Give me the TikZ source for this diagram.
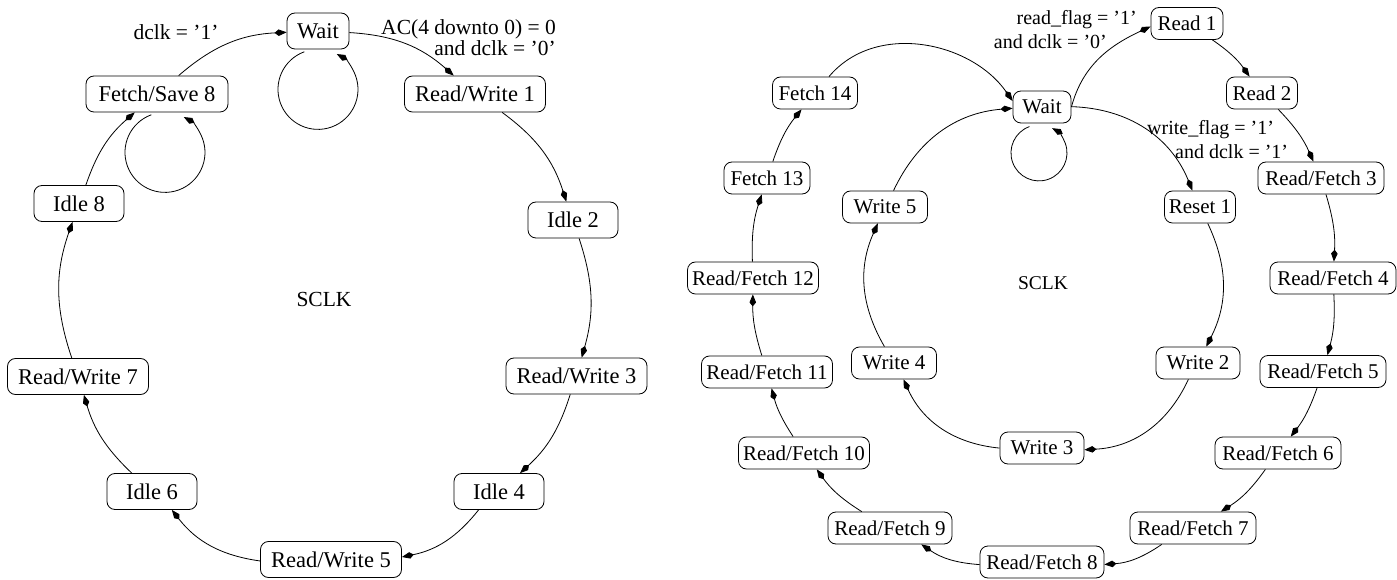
\documentclass[tikz,border=0pt]{standalone}
\usepackage{fontspec}
\setmainfont{Liberation Serif}
\usetikzlibrary{arrows.meta}
\begin{document}
\begin{tikzpicture}[x=1pt,y=1pt,
  st/.style={draw, rounded corners=8pt, inner xsep=0pt, inner ysep=0pt, line width=0.8pt},
  stl/.style={st, minimum height=36pt, font=\fontsize{22.5}{27}\selectfont},
  str/.style={st, minimum height=32pt, font=\fontsize{21}{25}\selectfont},
  tr/.style={line width=0.8pt, -{Kite[length=12pt,width=6.5pt,inset=4pt]}},
  lbll/.style={inner sep=0pt, font=\fontsize{21.5}{21}\selectfont},
  lblr/.style={inner sep=0pt, font=\fontsize{20}{24}\selectfont}
]
\useasboundingbox (0,0) rectangle (1397,579);
% ---------------- left machine
\node[stl, minimum width=62pt]  (wl)  at (318,548)   {Wait};
\node[stl, minimum width=141pt] (rw1) at (475,485)   {Read/Write 1};
\node[stl, minimum width=90pt]  (i2)  at (573,359)   {Idle 2};
\node[stl, minimum width=141pt] (rw3) at (576.5,203) {Read/Write 3};
\node[stl, minimum width=90pt]  (i4)  at (499,87.5)  {Idle 4};
\node[stl, minimum width=141pt] (rw5) at (331,19.5)  {Read/Write 5};
\node[stl, minimum width=90pt]  (i6)  at (152,87.5)  {Idle 6};
\node[stl, minimum width=141pt] (rw7) at (78,202.5)  {Read/Write 7};
\node[stl, minimum width=90pt]  (i8)  at (79,375.5)  {Idle 8};
\node[stl, minimum width=142pt] (fs8) at (157,485)   {Fetch/Save 8};
\node[inner sep=0pt, font=\fontsize{21.5}{24}\selectfont] (sclkl) at (324,280) {SCLK};

\draw[tr] (wl) to[bend left=19] (rw1);
\draw[tr] (rw1) to[bend left=18] (i2);
\draw[tr] (i2) to[bend left=17] (rw3);
\draw[tr] (rw3) to[bend left=15] (i4);
\draw[tr] (i4) to[bend left=20] (rw5);
\draw[tr] (rw5) to[bend left=22] (i6);
\draw[tr] (i6) to[bend left=15] (rw7);
\draw[tr] (rw7) to[bend left=19] (i8);
\draw[tr] (i8) to[bend left=15] (fs8);
\draw[tr] (fs8) to[bend left=19] (wl);
\draw[tr] ([shift={(-13.7,-2.4)}]wl.south) arc[start angle=110, end angle=422, radius=40pt];
\draw[tr] ([shift={(-5.7,-2.4)}]fs8.south) arc[start angle=110, end angle=422, radius=40pt];

\node[lbll, align=right, anchor=east] (lac) at (556,541.5) {AC(4 downto 0) = 0\\and dclk = ’0’};
\node[lbll] (ld1) at (176,547) {dclk = ’1’};

% ---------------- right machine
\node[str, minimum width=58pt]  (wr)   at (1042,472)  {Wait};
\node[str, minimum width=72pt]  (r1)   at (1187,555.5){Read 1};
\node[str, minimum width=71pt]  (r2)   at (1262,486)  {Read 2};
\node[str, minimum width=126pt] (rf3)  at (1321,401)  {Read/Fetch 3};
\node[str, minimum width=126pt] (rf4)  at (1333,301)  {Read/Fetch 4};
\node[str, minimum width=126pt] (rf5)  at (1323,207.5){Read/Fetch 5};
\node[str, minimum width=126pt] (rf6)  at (1278,126)  {Read/Fetch 6};
\node[str, minimum width=126pt] (rf7)  at (1193,51)   {Read/Fetch 7};
\node[str, minimum width=124pt] (rf8)  at (1042,17)   {Read/Fetch 8};
\node[str, minimum width=124pt] (rf9)  at (890,51)    {Read/Fetch 9};
\node[str, minimum width=131pt] (rf10) at (804,126)   {Read/Fetch 10};
\node[str, minimum width=131pt] (rf11) at (767,207)   {Read/Fetch 11};
\node[str, minimum width=131pt] (rf12) at (753,301)   {Read/Fetch 12};
\node[str, minimum width=86pt]  (f13)  at (767,401)   {Fetch 13};
\node[str, minimum width=85pt]  (f14)  at (815,486)   {Fetch 14};
\node[str, minimum width=85pt]  (w5)   at (885,372)   {Write 5};
\node[str, minimum width=71pt]  (rs1)  at (1200,372)  {Reset 1};
\node[str, minimum width=84pt]  (w2)   at (1198,216)  {Write 2};
\node[str, minimum width=84pt]  (w3)   at (1042,131)  {Write 3};
\node[str, minimum width=85pt]  (w4)   at (894,216)   {Write 4};
\node[inner sep=0pt, font=\fontsize{19.5}{22}\selectfont] (sclkr) at (1043,296) {SCLK};

% inner ring
\draw[tr] (wr) to[bend left=33] (rs1);
\draw[tr] (rs1) to[bend left=26] (w2);
\draw[tr] (w2) to[bend left=31] (w3);
\draw[tr] (w3) to[bend left=30] (w4);
\draw[tr] (w4) to[bend left=27] (w5);
\draw[tr] (w5) to[bend left=30] (wr);
\draw[tr] ([shift={(-12.6,-3.2)}]wr.south) arc[start angle=110, end angle=422, radius=28pt];
% outer ring
\draw[tr] (wr.east) to[out=75, in=205] ([yshift=-3pt]r1.west);
\draw[tr] (r1) to[bend left=10] (r2);
\draw[tr] (r2) to[bend left=10] (rf3);
\draw[tr] (rf3) to[bend left=10] (rf4);
\draw[tr] (rf4) to[bend left=9] (rf5);
\draw[tr] (rf5) to[bend left=9] (rf6);
\draw[tr] (rf6) to[bend left=11] (rf7);
\draw[tr] (rf7) to[bend left=15] (rf8);
\draw[tr] (rf8) to[bend left=15] (rf9);
\draw[tr] (rf9) to[bend left=11] (rf10);
\draw[tr] (rf10) to[bend left=9] (rf11);
\draw[tr] (rf11) to[bend left=9] (rf12);
\draw[tr] (rf12) to[bend left=10] (f13);
\draw[tr] (f13) to[bend left=10] (f14);
\draw[tr] ([xshift=14pt]f14.north) to[out=50, in=125] ([yshift=6pt]wr.west);

\node[lblr, align=right, anchor=east] (lrd) at (1137,549) {read\_flag = ’1’\\and dclk = ’0’\hspace*{30pt}};
\node[lblr, align=left, anchor=west] (lwr) at (1147,439.5) {write\_flag = ’1’\\\hspace*{28pt}and dclk = ’1’};
\end{tikzpicture}
\end{document}
